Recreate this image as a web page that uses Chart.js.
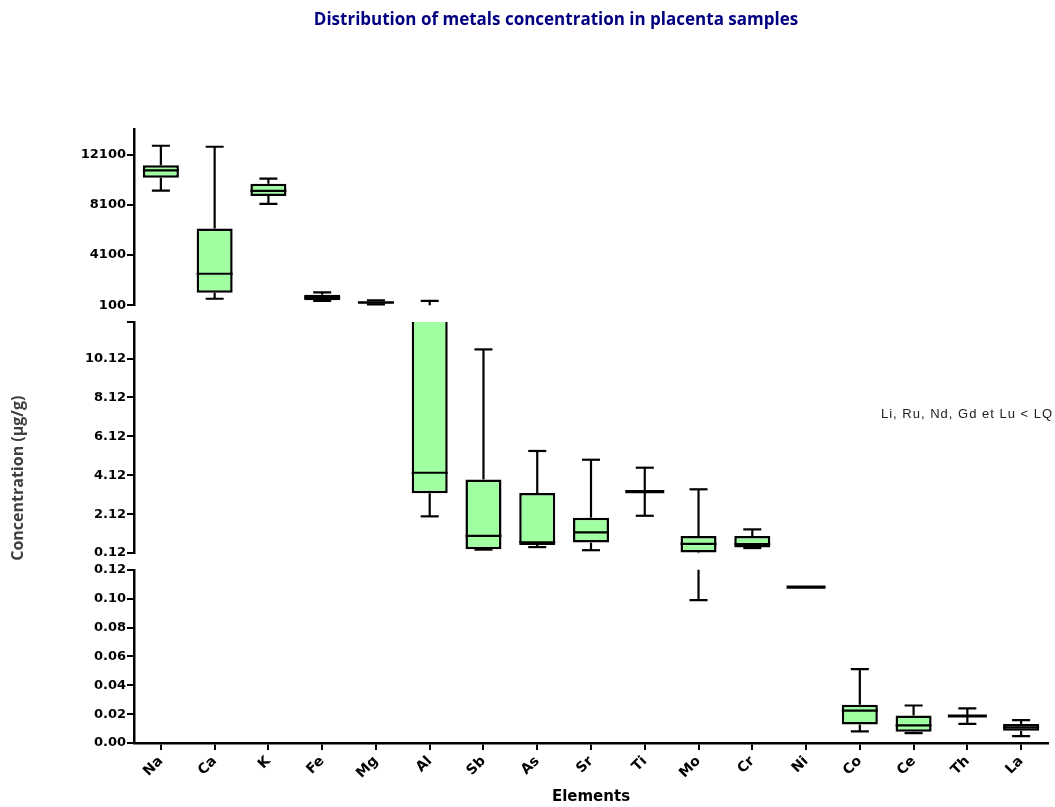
<!DOCTYPE html>
<html>
<head>
<meta charset="utf-8">
<script src="https://cdn.jsdelivr.net/npm/chart.js@4.4.1/dist/chart.umd.min.js"></script>
<style>
html,body{margin:0;padding:0;background:#fff;}
#wrap{width:1055px;height:807px;}
</style>
</head>
<body>
<div id="wrap"><canvas id="c" width="1055" height="807"></canvas></div>
<script>
// ---- data ----
const categories = ['Na','Ca','K','Fe','Mg','Al','Sb','As','Sr','Ti','Mo','Cr','Ni','Co','Ce','Th','La'];
const minValues    = [9230, 620, 8170, 440, 180, 2.01, 0.30, 0.43, 0.27, 2.04, 0.099, 0.38, 0.108, 0.0080, 0.0069, 0.0132, 0.0048];
const q1Values     = [10260, 1100, 8800, 500, 230, 3.20, 0.32, 0.54, 0.66, 3.28, 0.15, 0.41, 0.108, 0.0129, 0.0078, 0.0187, 0.0085];
const medianValues = [10840, 2610, 9200, 720, 320, 4.25, 1.01, 0.68, 1.19, 3.28, 0.60, 0.59, 0.108, 0.0224, 0.0122, 0.0187, 0.0108];
const q3Values     = [11240, 6210, 9780, 940, 420, 45, 3.91, 3.21, 1.94, 3.28, 1.00, 1.00, 0.108, 0.0265, 0.0191, 0.0187, 0.0132];
const maxValues    = [12800, 12720, 10180, 1130, 500, 450, 10.59, 5.37, 4.92, 4.51, 3.40, 1.34, 0.108, 0.0512, 0.026, 0.024, 0.0159];

const topTicks    = [100, 4100, 8100, 12100];
const midTicks    = [0.12, 2.12, 4.12, 6.12, 8.12, 10.12, 12];
const bottomTicks = [0, 0.02, 0.04, 0.06, 0.08, 0.10, 0.12];
const topRange    = [100, 14100];
const midRange    = [0.12, 12];
const bottomRange = [0, 0.12];

const chartTitle = 'Distribution of metals concentration in placenta samples';
const yTitle = 'Concentration (\u00b5g/g)';
const xTitle = 'Elements';
const note = 'Li, Ru, Nd, Gd et Lu < LQ';

// ---- styling ----
const tickFont = {family: 'DejaVu Sans', size: 13, weight: 'bold'};
const boxData = categories.map((c, i) => [q1Values[i], q3Values[i]]);
const segIds = ['yTop', 'yMid', 'yBot'];

function segAxis(range, ticks, weight, fmt) {
  return {
    type: 'linear', position: 'left', stack: 'y', stackWeight: weight,
    min: range[0], max: range[1],
    afterBuildTicks: s => { s.ticks = ticks.map(v => ({value: v})); },
    afterFit: s => { s.width = 70; },
    grid: {display: true, drawOnChartArea: false, drawTicks: true, tickLength: 7, color: '#000', lineWidth: 2},
    border: {display: true, color: '#000', width: 2.5},
    ticks: {font: tickFont, color: '#000', padding: 1, callback: fmt}
  };
}
function gapAxis(weight) {
  return {
    type: 'linear', position: 'left', stack: 'y', stackWeight: weight,
    grid: {display: false}, border: {display: false}, ticks: {display: false}
  };
}

const boxWhiskerPlugin = {
  id: 'boxWhiskers',
  afterDatasetsDraw(chart) {
    const ctx = chart.ctx, xs = chart.scales.x;
    const meta = chart.getDatasetMeta(0);
    segIds.forEach(id => {
      const s = chart.scales[id];
      const inRange = v => v >= s.min && v <= s.max;
      const clampV = v => Math.min(Math.max(v, s.min), s.max);
      ctx.save();
      ctx.beginPath();
      ctx.rect(xs.left - 5, s.top - 1, xs.right - xs.left + 10, s.bottom - s.top + 2);
      ctx.clip();
      ctx.strokeStyle = '#000';
      ctx.lineCap = 'butt';
      categories.forEach((c, i) => {
        const cx = xs.getPixelForValue(i);
        const bw = meta.data[i].width;
        const py = v => s.getPixelForValue(v);
        const seg = (x1, y1, x2, y2, lw) => {
          ctx.lineWidth = lw; ctx.beginPath(); ctx.moveTo(x1, y1); ctx.lineTo(x2, y2); ctx.stroke();
        };
        const vline = (a, b) => {
          const lo = clampV(Math.min(a, b)), hi = clampV(Math.max(a, b));
          if (hi > lo) seg(cx, py(lo), cx, py(hi), 2.2);
        };
        const hline = (v, half, lw) => { if (inRange(v)) seg(cx - half, py(v), cx + half, py(v), lw); };
        const capW = bw / 4;
        if (maxValues[i] > q3Values[i]) {
          vline(q3Values[i], maxValues[i]);
          hline(maxValues[i], capW, 2.2);
        }
        if (minValues[i] < q1Values[i]) {
          vline(q1Values[i], minValues[i]);
          hline(minValues[i], capW, 2.2);
        }
        if (q3Values[i] > q1Values[i]) {
          hline(medianValues[i], bw / 2, 2.2);
        } else {
          hline(medianValues[i], bw / 2 + 1.5, 3.2);
        }
      });
      ctx.restore();
    });
  },
  afterDraw(chart) {
    const ctx = chart.ctx, a = chart.chartArea;
    ctx.save();
    ctx.translate(18, (a.top + a.bottom) / 2 + 42);
    ctx.rotate(-Math.PI / 2);
    ctx.font = 'bold 16px "Open Sans"';
    ctx.fillStyle = '#404040';
    ctx.textAlign = 'center';
    ctx.textBaseline = 'middle';
    ctx.fillText(yTitle, 0, 0);
    ctx.restore();
    ctx.save();
    ctx.font = '13px "Liberation Sans", Arial';
    try { ctx.letterSpacing = '1px'; } catch (e) {}
    ctx.fillStyle = '#222';
    ctx.textAlign = 'left';
    ctx.textBaseline = 'middle';
    ctx.fillText(note, 881, 414);
    ctx.restore();
  }
};

new Chart(document.getElementById('c'), {
  type: 'bar',
  data: {
    labels: categories,
    datasets: segIds.map(id => ({
      data: boxData, yAxisID: id, xAxisID: 'x',
      backgroundColor: '#A0FFA0', borderColor: '#000', borderWidth: 2.5, borderSkipped: false,
      barPercentage: 0.67, categoryPercentage: 1, grouped: false, clip: 0
    }))
  },
  options: {
    responsive: false, animation: false, devicePixelRatio: 1,
    layout: {padding: {left: 64, right: 7, top: 0, bottom: 0}},
    plugins: {
      legend: {display: false}, tooltip: {enabled: false},
      title: {display: true, text: chartTitle, color: '#000080',
        font: {family: 'Open Sans', size: 17, weight: 'bold'}, padding: {top: 10, bottom: 99}}
    },
    scales: {
      x: {
        type: 'category', offset: true,
        afterFit: s => { s.height = 64; },
        grid: {display: true, offset: false, drawOnChartArea: false, drawTicks: true, tickLength: 7, color: '#000', lineWidth: 2},
        border: {display: true, color: '#000', width: 2.5},
        ticks: {font: {family: 'DejaVu Sans', size: 14, weight: 'bold'}, color: '#000', maxRotation: 45, minRotation: 45, autoSkip: false, padding: 3},
        title: {display: true, text: xTitle, color: '#000', font: {family: 'DejaVu Sans', size: 15, weight: 'bold'}, padding: {top: 0, bottom: 1}}
      },
      yBot: segAxis(bottomRange, bottomTicks, 173.3, v => v.toFixed(2)),
      gap2: gapAxis(16.7),
      yMid: segAxis(midRange, midTicks, 231.3, v => (v === 12 ? '' : v.toFixed(2))),
      gap1: gapAxis(16.7),
      yTop: segAxis(topRange, topTicks, 176, v => String(v))
    }
  },
  plugins: [boxWhiskerPlugin]
});
</script>
</body>
</html>
